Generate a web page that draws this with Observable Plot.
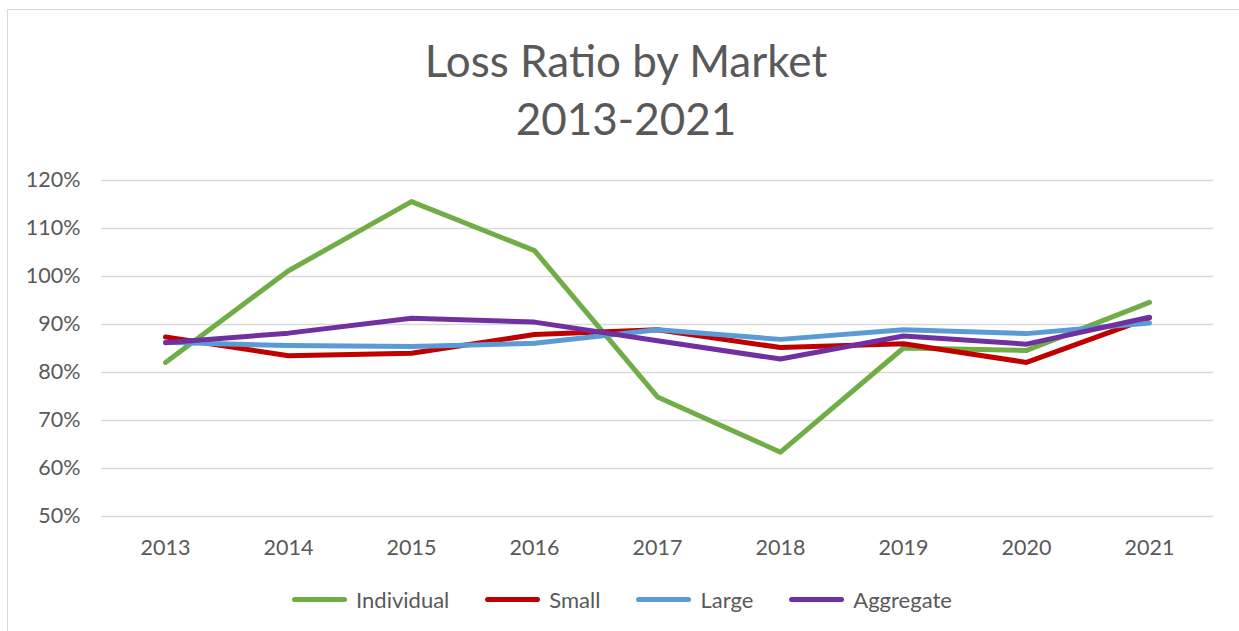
<!DOCTYPE html>
<html>
<head>
<meta charset="utf-8">
<script src="https://cdn.jsdelivr.net/npm/d3@7"></script>
<script src="https://cdn.jsdelivr.net/npm/@observablehq/plot@0.6"></script>
<style>
  html, body { margin: 0; padding: 0; background: #fff; }
  body { width: 1239px; height: 631px; overflow: hidden; position: relative; font-family: Lato, "Open Sans", sans-serif; }
  #frame { position: absolute; left: 7px; top: 9px; width: 1260px; height: 700px; border: 1.5px solid #d9d9d9; box-sizing: border-box; }
  #title { position: absolute; left: 7px; width: 1238px; top: 31px; text-align: center; color: #595959; font-size: 44px; line-height: 58px; }
  #chart { position: absolute; left: 0; top: 160px; }
  #legend { position: absolute; left: 0; width: 1244px; top: 586px; display: flex; justify-content: center; gap: 36px; color: #595959; font-size: 22px; }
  .item { display: flex; align-items: center; }
  .sw { width: 55px; height: 5px; border-radius: 3px; margin-right: 9px; }
</style>
</head>
<body>
<div id="frame"></div>
<div id="title">Loss Ratio by Market<br>2013-2021</div>
<div id="chart"></div>
<div id="legend"></div>
<script>
const years = ["2013","2014","2015","2016","2017","2018","2019","2020","2021"];
const seriesNames = ["Individual","Small","Large","Aggregate"];
const seriesColors = ["#70AD47","#C00000","#5B9BD5","#7030A0"];
const individual = [82.1, 101.2, 115.6, 105.4, 74.9, 63.4, 85.1, 84.6, 94.6];
const small      = [87.4, 83.5, 84.0, 87.9, 88.9, 85.2, 86.0, 82.1, 91.4];
const large      = [86.3, 85.6, 85.4, 86.1, 88.9, 86.9, 88.9, 88.1, 90.3];
const aggregate  = [86.2, 88.2, 91.3, 90.5, 86.6, 82.8, 87.6, 85.9, 91.5];
const yTicks = [50, 60, 70, 80, 90, 100, 110, 120];

const valuesBySeries = [individual, small, large, aggregate];
const data = [];
seriesNames.forEach((s, i) => years.forEach((y, j) => data.push({series: s, year: y, value: valuesBySeries[i][j]})));

const plot = Plot.plot({
  width: 1239,
  height: 410,
  marginLeft: 101,
  marginRight: 26,
  marginTop: 20,
  marginBottom: 54,
  style: { fontFamily: "Lato, 'Open Sans', sans-serif", fontSize: "21.5px", color: "#595959", background: "transparent" },
  x: { type: "point", domain: years, padding: 0.5, label: null },
  y: { domain: [50, 120], label: null },
  color: { domain: seriesNames, range: seriesColors },
  marks: [
    Plot.gridY(yTicks, { stroke: "#d9d9d9", strokeOpacity: 1, strokeWidth: 1.5 }),
    Plot.axisY(yTicks, { tickSize: 0, tickPadding: 21, tickFormat: d => d + "%", fill: "#595959", label: null }),
    Plot.axisX(years, { tickSize: 0, tickPadding: 23, fill: "#595959", label: null }),
    Plot.line(data, { x: "year", y: "value", z: "series", stroke: "series", strokeWidth: 5, strokeLinecap: "round", strokeLinejoin: "round" })
  ]
});
document.getElementById("chart").appendChild(plot);

const legend = document.getElementById("legend");
seriesNames.forEach((s, i) => {
  const it = document.createElement("div");
  it.className = "item";
  const sw = document.createElement("div");
  sw.className = "sw";
  sw.style.background = seriesColors[i];
  const t = document.createElement("span");
  t.textContent = s;
  it.appendChild(sw); it.appendChild(t);
  legend.appendChild(it);
});
</script>
</body>
</html>
